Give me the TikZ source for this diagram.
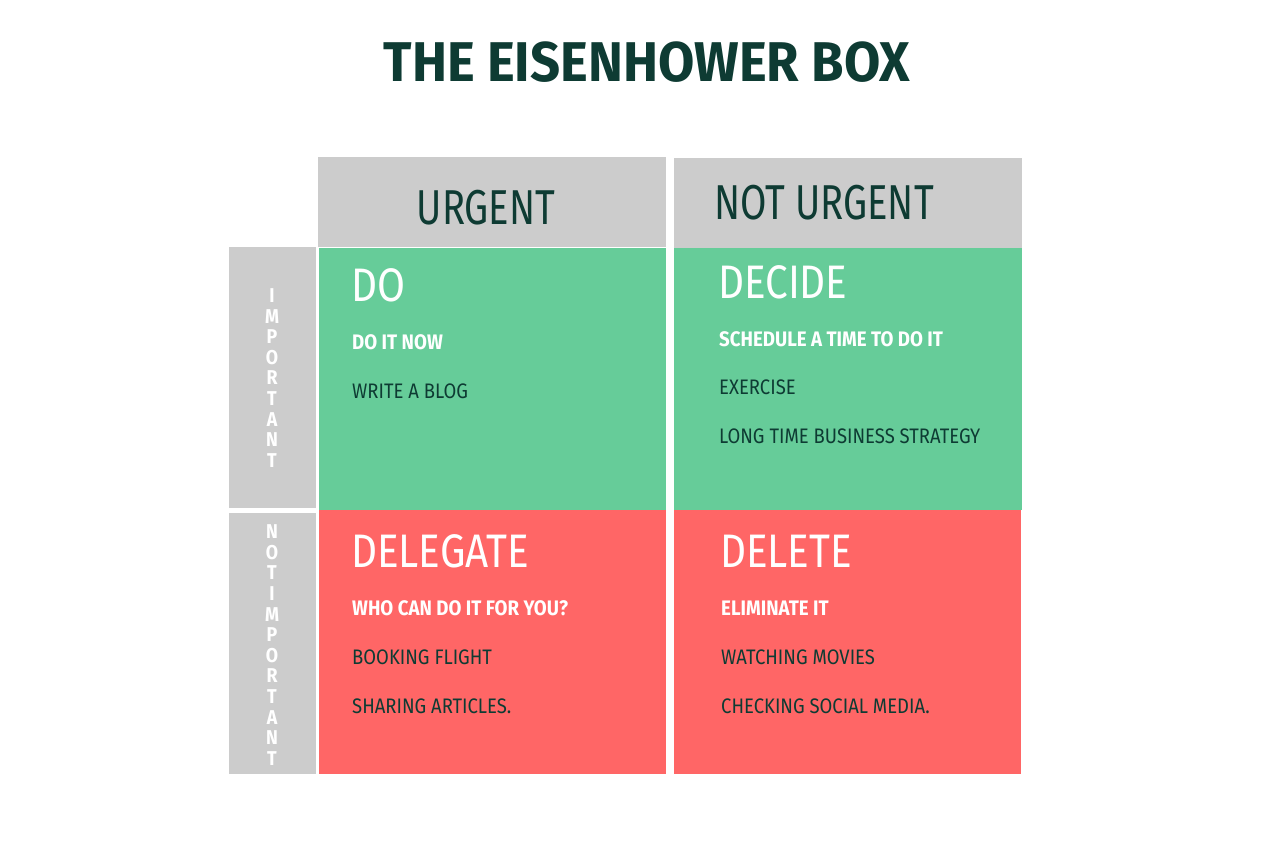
\documentclass[tikz,border=0pt]{standalone}
\usepackage{fontspec}
\setmainfont{Fira Sans}[FakeStretch=0.78]
\newfontfamily\bigf{Fira Sans}[FakeStretch=0.86]
\newfontfamily\itemf{Fira Sans}[FakeStretch=0.88]
\newfontfamily\boldf{Fira Sans}[FakeStretch=0.89,UprightFont=*-Bold]
\newfontfamily\titlef{Fira Sans}[FakeStretch=0.94,UprightFont=*-Bold]
\definecolor{ink}{HTML}{0E3B33}
\definecolor{hdr}{HTML}{CCCCCC}
\definecolor{grn}{HTML}{66CC99}
\definecolor{red}{HTML}{FF6666}
\begin{document}
\begin{tikzpicture}[x=1pt,y=-1pt,
  big/.style={anchor=west,inner sep=0pt,text=white,font=\bigf\fontsize{47}{50}\selectfont},
  head/.style={anchor=west,inner sep=0pt,text=white,font=\boldf\fontsize{21}{24}\selectfont},
  item/.style={anchor=west,inner sep=0pt,text=ink,font=\itemf\fontsize{21}{24}\selectfont},
  vert/.style={inner sep=0pt,text=white,font=\boldf\fontsize{20}{20.6}\selectfont,align=center}]
\useasboundingbox (0,0) rectangle (1280,853);
\fill[white] (0,0) rectangle (1280,853);
% boxes
\fill[hdr] (318,157) rectangle (666,247);
\fill[hdr] (674,158) rectangle (1022,248);
\fill[hdr] (229,247) rectangle (316,508);
\fill[hdr] (229,513) rectangle (316,774);
\fill[grn] (319,248) rectangle (666,510);
\fill[grn] (674,248) rectangle (1022,510);
\fill[red] (319,510) rectangle (666,774);
\fill[red] (674,510) rectangle (1021,774);
% title
\node[inner sep=0pt,text=ink,font=\titlef\fontsize{56}{60}\selectfont] (title) at (647,62) {THE EISENHOWER BOX};
\node[inner sep=0pt,text=ink,font=\fontsize{49}{52}\selectfont] (urg) at (486,208) {URGENT};
\node[anchor=west,inner sep=0pt,text=ink,font=\fontsize{49}{52}\selectfont] (nurg) at (714,203) {NOT URGENT};
% vertical labels
\node[vert] (imp) at (272,378) {I\\M\\P\\O\\R\\T\\A\\N\\T};
\node[vert] (nimp) at (272,645) {N\\O\\T\\I\\M\\P\\O\\R\\T\\A\\N\\T};
% quadrant texts
\node[big] (do) at (351,285) {DO};
\node[head] (do1) at (352,342) {DO IT NOW};
\node[item] (do2) at (352,391) {WRITE A BLOG};
\node[big] (de) at (718,282) {DECIDE};
\node[head] (de1) at (719,339) {SCHEDULE A TIME TO DO IT};
\node[item] (de2) at (719,387) {EXERCISE};
\node[item] (de3) at (719,436) {LONG TIME BUSINESS STRATEGY};
\node[big] (dg) at (351,551) {DELEGATE};
\node[head] (dg1) at (352,608) {WHO CAN DO IT FOR YOU?};
\node[item] (dg2) at (352,657) {BOOKING FLIGHT};
\node[item] (dg3) at (352,706) {SHARING ARTICLES.};
\node[big] (dl) at (720,551) {DELETE};
\node[head] (dl1) at (721,608) {ELIMINATE IT};
\node[item] (dl2) at (721,657) {WATCHING MOVIES};
\node[item] (dl3) at (721,706) {CHECKING SOCIAL MEDIA.};
\end{tikzpicture}
\end{document}
